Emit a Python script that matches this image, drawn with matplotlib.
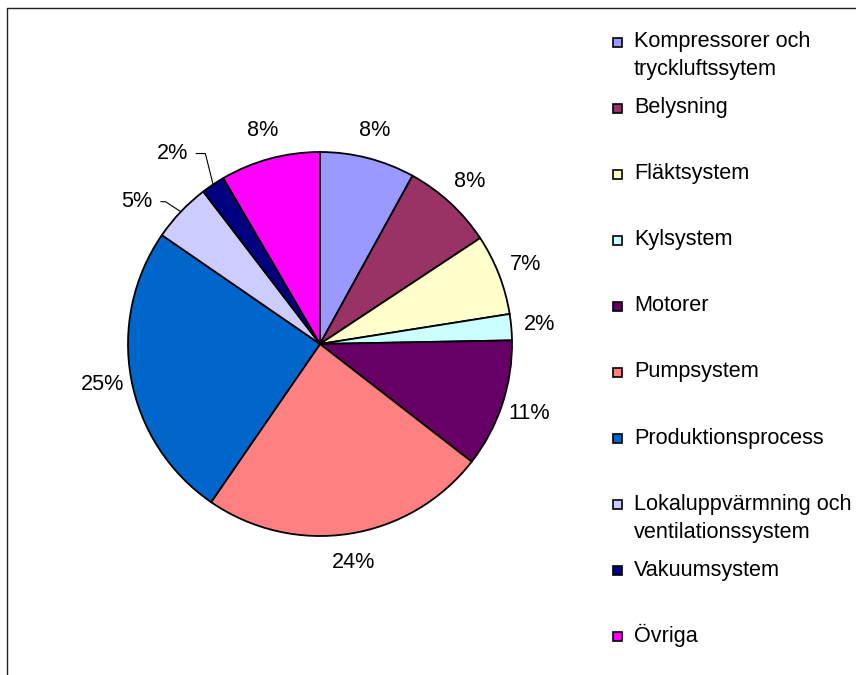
import matplotlib.pyplot as plt
from matplotlib.patches import Rectangle
import numpy as np

categories = ['Kompressorer och\ntryckluftssytem', 'Belysning', 'Fläktsystem', 'Kylsystem',
              'Motorer', 'Pumpsystem', 'Produktionsprocess',
              'Lokaluppvärmning och\nventilationssystem', 'Vakuumsystem', 'Övriga']
shares = [8.0, 7.7, 6.8, 2.2, 10.8, 24.1, 25.0, 5.0, 2.0, 8.4]
pct_labels = ['8%', '8%', '7%', '2%', '11%', '24%', '25%', '5%', '2%', '8%']
colors = ['#9999FF', '#993366', '#FFFFCC', '#CCFFFF', '#660066',
          '#FF8080', '#0066CC', '#CCCCFF', '#000080', '#FF00FF']

# labels that sit off the pie with a leader line: index -> (offset px, leader angle)
leaders = {7: ((-44, 10), 147), 8: ((-41, 31), 104)}

W, H = 856, 675
plt.rcParams['font.family'] = ['Liberation Sans', 'DejaVu Sans']
fs = 15.6

fig = plt.figure(figsize=(W / 100, H / 100), dpi=100)
ax = fig.add_axes([0, 0, 1, 1])

cx, cy, r = 320, H - 344, 192
wedges, _ = ax.pie(shares, colors=colors, startangle=90, counterclock=False,
                   center=(cx, cy), radius=r,
                   wedgeprops=dict(edgecolor='black', linewidth=1.3))
ax.set_xlim(0, W)
ax.set_ylim(0, H)
ax.set_aspect('equal')
ax.axis('off')

for i, w in enumerate(wedges):
    mid = np.deg2rad((w.theta1 + w.theta2) / 2)
    if i in leaders:
        off, ang = leaders[i]
        ax.annotate(pct_labels[i], xy=(cx + r * np.cos(mid), cy + r * np.sin(mid)),
                    xytext=off, textcoords='offset pixels', ha='center', va='center',
                    fontsize=fs,
                    arrowprops=dict(arrowstyle='-', color='black', lw=0.8,
                                    shrinkA=4, shrinkB=0,
                                    connectionstyle='angle,angleA=0,angleB=%d,rad=0' % ang))
    else:
        d = 1.15 * r
        ax.text(cx + d * np.cos(mid), cy + d * np.sin(mid), pct_labels[i],
                ha='center', va='center', fontsize=fs)

# legend drawn by hand so rows keep an even spacing
row0, step = 40, 66.1
for i, (lab, col) in enumerate(zip(categories, colors)):
    y = row0 + i * step
    ax.add_patch(Rectangle((613, H - (y + 2) - 4.5), 9, 9, facecolor=col,
                           edgecolor='black', linewidth=1.2))
    for k, line in enumerate(lab.split('\n')):
        ax.text(634, H - (y + 7 + 28 * k), line, ha='left', va='baseline', fontsize=fs)

# outer frame (cut off on the right and bottom)
ax.plot([7, 7, W], [0, H - 8, H - 8], color='#222222', lw=1.0, clip_on=False)

fig.savefig('out.png', dpi=100)
